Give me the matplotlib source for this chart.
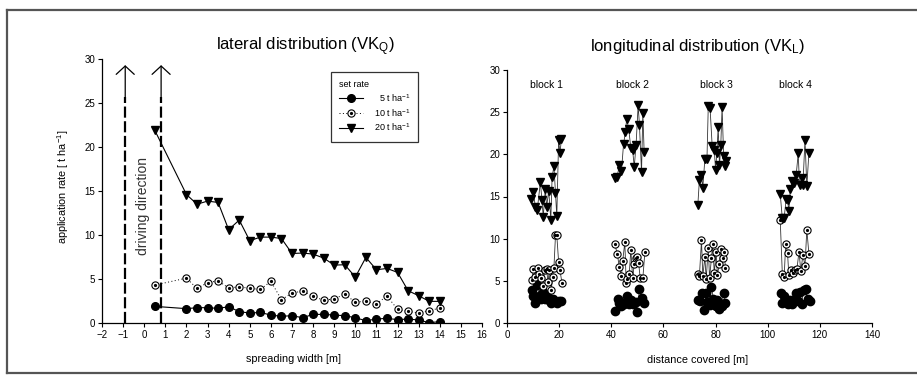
import matplotlib
matplotlib.use("Agg")
import matplotlib.pyplot as plt
from matplotlib.lines import Line2D
from matplotlib.legend_handler import HandlerTuple

plt.rcParams['font.family'] = ['Liberation Sans', 'DejaVu Sans']
plt.rcParams['mathtext.fontset'] = 'custom'
plt.rcParams['mathtext.rm'] = 'Liberation Sans'
plt.rcParams['mathtext.it'] = 'Liberation Sans:italic'
plt.rcParams['mathtext.bf'] = 'Liberation Sans:bold'

# ---------------- lateral distribution data ----------------
lat_x = [0.5, 2, 2.5, 3, 3.5, 4, 4.5, 5, 5.5, 6, 6.5, 7, 7.5, 8, 8.5, 9, 9.5,
         10, 10.5, 11, 11.5, 12, 12.5, 13, 13.5, 14]
lat_5 = [1.89, 1.63, 1.74, 1.74, 1.66, 1.85, 1.29, 1.13, 1.2, 0.9, 0.76, 0.83, 0.6,
         0.98, 0.98, 0.9, 0.83, 0.6, 0.26, 0.45, 0.53, 0.38, 0.45, 0.34, 0.04, 0.15]
lat_10 = [4.31, 5.1, 3.93, 4.58, 4.8, 3.97, 4.12, 3.93, 3.82, 4.73, 2.65, 3.4, 3.63,
          3.06, 2.57, 2.76, 3.25, 2.38, 2.46, 2.19, 3.06, 1.55, 1.32, 1.13, 1.4, 1.7]
lat_20 = [21.9, 14.6, 13.5, 13.85, 13.7, 10.6, 11.7, 9.35, 9.76, 9.76, 9.6, 7.9, 7.95,
          7.83, 7.38, 6.58, 6.62, 5.22, 7.45, 6.05, 6.2, 5.75, 3.67, 3.1, 2.46, 2.46]
drive_x = [-0.9, 0.8]

# ---------------- longitudinal distribution data ----------------
b1_20_x = [9.2, 10.1, 10.9, 11.6, 12.8, 13.4, 13.9, 14.7, 15.2, 16.0, 16.8, 17.3, 18.0, 18.6, 19.1, 19.8, 20.3, 20.9]
b1_20_y = [14.7, 15.5, 13.75, 13.4, 16.7, 14.6, 12.6, 15.9, 13.75, 15.7, 12.25, 17.3, 18.6, 15.4, 12.65, 21.7, 20.2, 21.8]
b1_10_x = [9.6, 10.1, 10.9, 11.9, 12.4, 13.2, 13.7, 14.5, 15.2, 15.7, 16.3, 17.0, 17.5, 18.0, 18.6, 19.1, 19.8, 20.3, 21.1]
b1_10_y = [5.1, 6.4, 5.45, 6.5, 5.85, 5.3, 4.4, 6.25, 6.4, 4.9, 6.25, 3.95, 5.5, 6.55, 10.4, 10.4, 7.25, 6.25, 4.75]
b1_5_x = [9.6, 10.1, 10.9, 11.6, 12.4, 13.2, 13.9, 14.7, 15.5, 16.3, 17.0, 17.8, 18.6, 19.3, 20.1, 20.9]
b1_5_y = [3.9, 3.25, 2.4, 4.5, 3.15, 2.9, 3.7, 2.9, 3.3, 2.7, 2.4, 2.85, 2.55, 2.4, 2.55, 2.55]

b2_20_x = [41.5, 42.2, 43.1, 43.9, 44.7, 45.4, 45.9, 46.7, 47.5, 48.2, 48.8, 49.5, 50.3, 50.8, 51.6, 52.1, 52.6]
b2_20_y = [17.15, 17.3, 18.7, 18.0, 21.2, 22.6, 24.2, 23.0, 20.7, 20.5, 18.5, 21.1, 25.8, 23.5, 17.9, 24.9, 20.3]
b2_10_x = [41.3, 42.3, 43.1, 43.9, 44.4, 45.2, 45.7, 46.2, 46.9, 47.5, 48.2, 48.8, 49.3, 49.8, 50.5, 51.1, 52.1, 52.9]
b2_10_y = [9.4, 8.2, 6.6, 5.6, 7.4, 9.6, 4.8, 5.2, 5.85, 8.7, 5.3, 7.0, 7.7, 7.8, 7.1, 5.3, 5.3, 8.45]
b2_5_x = [41.6, 42.4, 43.1, 43.9, 44.9, 45.7, 46.2, 46.9, 47.7, 48.5, 49.3, 50.0, 50.8, 51.6, 52.4]
b2_5_y = [1.4, 2.9, 2.4, 2.0, 2.2, 2.45, 3.25, 2.3, 2.75, 2.3, 2.45, 1.35, 4.0, 3.0, 2.4]

b3_20_x = [73.2, 73.8, 74.6, 75.1, 75.9, 76.7, 77.2, 77.9, 78.7, 79.5, 80.0, 80.5, 81.0, 81.5, 82.0, 82.5, 83.1, 83.6, 84.1]
b3_20_y = [14.0, 17.0, 17.55, 16.05, 19.45, 19.45, 25.7, 25.45, 20.95, 20.5, 18.2, 20.15, 23.25, 18.7, 21.1, 25.6, 19.75, 18.6, 19.2]
b3_10_x = [73.1, 73.8, 74.6, 75.1, 75.9, 76.4, 77.2, 77.7, 78.4, 78.9, 79.5, 80.2, 80.7, 81.5, 82.0, 82.8, 83.3, 83.8]
b3_10_y = [5.85, 5.6, 9.8, 5.55, 7.8, 5.2, 8.9, 5.3, 7.65, 9.4, 5.9, 8.45, 5.75, 7.0, 8.75, 7.75, 8.45, 6.55]
b3_5_x = [73.3, 74.1, 74.8, 75.6, 76.4, 76.9, 77.7, 78.4, 79.2, 80.0, 80.7, 81.5, 82.3, 83.1, 83.8]
b3_5_y = [2.75, 2.55, 3.55, 1.6, 3.6, 2.45, 2.15, 4.25, 2.85, 2.05, 2.75, 1.65, 2.05, 3.5, 2.4]

b4_20_x = [104.8, 105.6, 106.3, 107.1, 107.6, 108.1, 108.7, 109.4, 110.2, 110.9, 111.7, 112.2, 113.0, 113.5, 114.3, 115.0, 115.8]
b4_20_y = [15.3, 12.4, 12.5, 14.7, 14.6, 13.3, 15.9, 16.8, 16.6, 17.5, 20.1, 16.35, 17.15, 16.35, 21.7, 16.2, 20.2]
b4_10_x = [104.8, 105.6, 106.3, 106.9, 107.6, 108.1, 108.9, 109.7, 110.4, 111.2, 112.0, 112.7, 113.5, 114.3, 115.0, 115.8]
b4_10_y = [12.2, 5.85, 5.45, 9.35, 8.3, 5.7, 6.3, 5.9, 6.25, 6.4, 8.45, 6.15, 8.05, 6.8, 11.05, 8.2]
b4_5_x = [105.1, 105.6, 106.3, 107.1, 107.9, 108.7, 109.4, 110.2, 110.9, 111.7, 112.2, 113.0, 113.8, 114.5, 115.3, 116.1]
b4_5_y = [3.55, 2.4, 3.15, 2.45, 2.2, 2.7, 2.3, 2.75, 3.55, 2.6, 3.7, 2.3, 3.95, 4.0, 2.9, 2.55]

block_labels = ['block 1', 'block 2', 'block 3', 'block 4']
block_label_x = [15.0, 48.2, 80.2, 110.7]

lat_xticks = list(range(-2, 17))
lon_xticks = list(range(0, 141, 20))
yticks = list(range(0, 31, 5))

# ---------------- figure ----------------
W, H = 917, 383
fig = plt.figure(figsize=(W / 100, H / 100), dpi=100)

# outer frame (top, bottom, left)
fc = '#555555'
fig.add_artist(Line2D([7 / W, 1.0], [1 - 10 / H, 1 - 10 / H], color=fc, lw=1.6))
fig.add_artist(Line2D([7 / W, 1.0], [1 - 373 / H, 1 - 373 / H], color=fc, lw=1.6))
fig.add_artist(Line2D([7 / W, 7 / W], [1 - 10 / H, 1 - 373 / H], color=fc, lw=1.6))

ax1 = fig.add_axes([102 / W, 60 / H, 380 / W, 264 / H])
ax2 = fig.add_axes([507 / W, 60 / H, 365 / W, 253 / H])

for ax in (ax1, ax2):
    ax.spines['top'].set_visible(False)
    ax.spines['right'].set_visible(False)
    ax.spines['left'].set_linewidth(0.9)
    ax.spines['bottom'].set_linewidth(0.9)
    ax.tick_params(direction='out', length=3, width=0.8, labelsize=7, pad=2)
    ax.set_yticks(yticks)
    ax.set_ylim(0, 30)
    ax.patch.set_alpha(0)

# ---- left panel ----
ax1.set_xlim(-2, 16)
ax1.set_xticks(lat_xticks)

for dx in drive_x:
    ax1.plot([dx, dx], [0, 25.7], color='black', lw=1.6, ls=(0, (5, 1.6)))
    ax1.annotate('', xy=(dx, 29.3), xytext=(dx, 25.6),
                 arrowprops=dict(arrowstyle='->,head_length=0.6,head_width=0.65',
                                 color='black', lw=0.9, shrinkA=0, shrinkB=0))
ax1.text(-0.08, 13.3, 'driving direction', rotation=90, ha='center', va='center',
         fontsize=10, color='#333333')

l5, = ax1.plot(lat_x, lat_5, color='black', lw=0.8, marker='o', ms=5.5,
               mfc='black', mec='black')
l10, = ax1.plot(lat_x, lat_10, color='black', lw=0.7, ls=(0, (1, 2.5)), marker='o',
                ms=5.2, mfc='white', mec='black', mew=0.8)
l10d, = ax1.plot(lat_x, lat_10, ls='none', marker='o', ms=1.3, mfc='black', mec='black')
l20, = ax1.plot(lat_x, lat_20, color='black', lw=0.8, marker='v', ms=5.5,
                mfc='black', mec='black')

leg = ax1.legend([l5, (l10, l10d), l20],
                 [r'  5 t ha$^{-1}$', r'10 t ha$^{-1}$', r'20 t ha$^{-1}$'],
                 handler_map={tuple: HandlerTuple(ndivide=1, pad=0)},
                 title='set rate', loc='upper left', bbox_to_anchor=(0.603, 0.952),
                 fontsize=6.5, title_fontsize=6.5, frameon=True, fancybox=False,
                 edgecolor='black', borderpad=0.9, handlelength=2.6, labelspacing=0.35,
                 handletextpad=1.2, borderaxespad=0)
leg._legend_box.align = 'left'
leg.get_frame().set_linewidth(0.9)

# ---- right panel ----
ax2.set_xlim(0, 140)
ax2.set_xticks(lon_xticks)

blocks = [
    (b1_20_x, b1_20_y, b1_10_x, b1_10_y, b1_5_x, b1_5_y),
    (b2_20_x, b2_20_y, b2_10_x, b2_10_y, b2_5_x, b2_5_y),
    (b3_20_x, b3_20_y, b3_10_x, b3_10_y, b3_5_x, b3_5_y),
    (b4_20_x, b4_20_y, b4_10_x, b4_10_y, b4_5_x, b4_5_y),
]
lc = '#333333'
for (x20, y20, x10, y10, x5, y5) in blocks:
    ax2.plot(x5, y5, color=lc, lw=0.6, marker='o', ms=6, mfc='black', mec='black')
    ax2.plot(x10, y10, color=lc, lw=0.6, marker='o', ms=5.2, mfc='white',
             mec='black', mew=0.8)
    ax2.plot(x10, y10, ls='none', marker='o', ms=1.3, mfc='black', mec='black')
    ax2.plot(x20, y20, color=lc, lw=0.6, marker='v', ms=5.5, mfc='black', mec='black')

for lab, bx in zip(block_labels, block_label_x):
    ax2.text(bx, 28.2, lab, ha='center', va='center', fontsize=7.5)

# ---- titles and axis labels ----
fig.text(305 / W, 1 - 47 / H, r'lateral distribution (VK$_\mathrm{Q}$)',
         ha='center', va='center', fontsize=12)
fig.text(698 / W, 1 - 47 / H, r'longitudinal distribution (VK$_\mathrm{L}$)',
         ha='center', va='center', fontsize=12)
fig.text(293 / W, 1 - 359 / H, 'spreading width [m]', ha='center', va='center', fontsize=7.8)
fig.text(698 / W, 1 - 360 / H, 'distance covered [m]', ha='center', va='center', fontsize=7.8)
fig.text(63 / W, 1 - 187 / H, r'application rate [ t ha$^{-1}$]', rotation=90,
         ha='center', va='center', fontsize=7.8)

fig.savefig('out.png', dpi=100)
